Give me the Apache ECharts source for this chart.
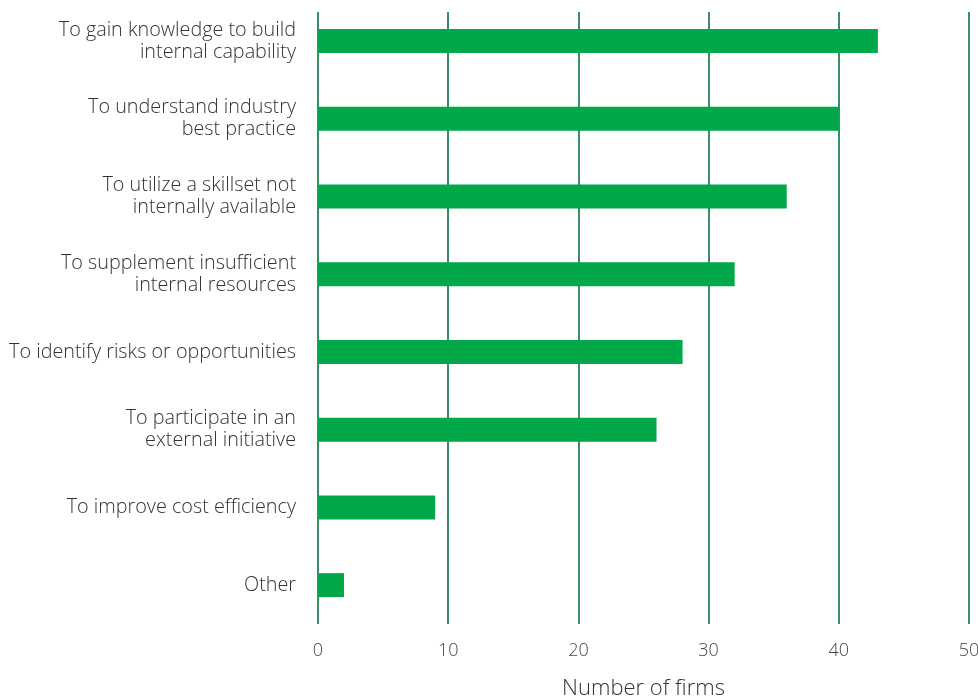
<!DOCTYPE html>
<html><head><meta charset="utf-8">
<script src="https://cdn.jsdelivr.net/npm/echarts@6/dist/echarts.min.js"></script>
<style>html,body{margin:0;padding:0;background:#fff}#c{width:978px;height:698px}</style>
</head><body><div id="c"></div>
<script>
const categories = [
  "To gain knowledge to build\ninternal capability",
  "To understand industry\nbest practice",
  "To utilize a skillset not\ninternally available",
  "To supplement insufficient\ninternal resources",
  "To identify risks or opportunities",
  "To participate in an\nexternal initiative",
  "To improve cost efficiency",
  "Other"
];
const firms = [43, 40, 36, 32, 28, 26, 9, 2];
const xTicks = [0, 10, 20, 30, 40, 50];
const axisTitle = "Number of firms";

const FONT = "'Open Sans', sans-serif";
const chart = echarts.init(document.getElementById('c'), null, {renderer: 'canvas'});
chart.setOption({
  animation: false,
  backgroundColor: '#fff',
  grid: [
    {left: 318, right: 9, top: 2, height: 622, containLabel: false, outerBoundsMode: 'none'},
    {left: 318, right: 9, top: 12, height: 612, containLabel: false, outerBoundsMode: 'none'}
  ],
  xAxis: [
    {gridIndex: 0, type: 'value', min: xTicks[0], max: xTicks[xTicks.length-1], interval: 10,
     axisLine: {show: false}, axisTick: {show: false}, axisLabel: {show: false}, splitLine: {show: false}},
    {gridIndex: 1, type: 'value', min: xTicks[0], max: xTicks[xTicks.length-1], interval: 10,
     axisLine: {show: false}, axisTick: {show: false},
     axisLabel: {color: '#444', fontFamily: FONT, fontWeight: 300, fontSize: 18, margin: 18},
     splitLine: {show: true, lineStyle: {color: '#3a8d68', width: 2}},
     name: axisTitle, nameLocation: 'middle', nameGap: 54,
     nameTextStyle: {color: '#333', fontFamily: FONT, fontWeight: 300, fontSize: 22}}
  ],
  yAxis: [
    {gridIndex: 0, type: 'category', data: categories, inverse: true,
     axisLine: {show: false}, axisTick: {show: false},
     axisLabel: {color: '#333', fontFamily: FONT, fontWeight: 300, fontSize: 19.8, lineHeight: 22, margin: 22, align: 'right'}},
    {gridIndex: 1, type: 'value', show: false}
  ],
  series: [{
    type: 'bar', xAxisIndex: 0, yAxisIndex: 0, data: firms, barWidth: 24,
    itemStyle: {color: '#00a84a'}, z: 3
  }]
});
</script></body></html>
